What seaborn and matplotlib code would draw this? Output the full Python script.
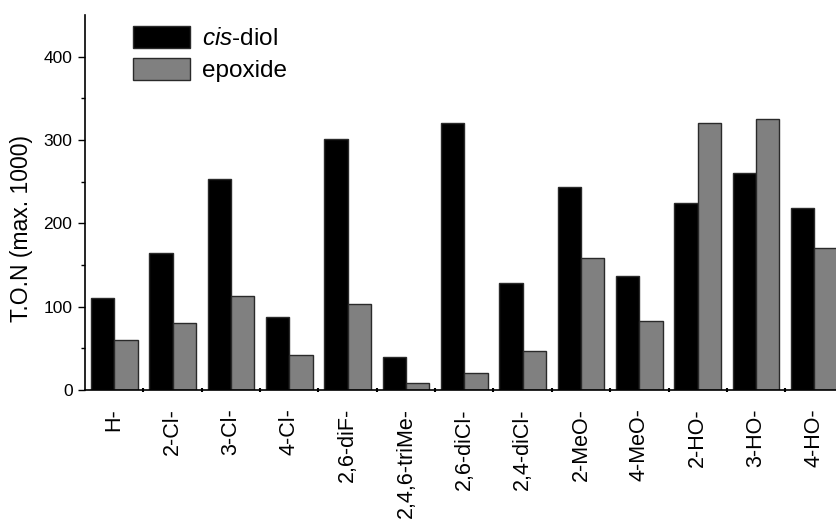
import matplotlib
matplotlib.use("Agg")
import matplotlib.pyplot as plt
import numpy as np
import pandas as pd
import seaborn as sns

# Substituents and turnover numbers for each product
substituents = ["H-", "2-Cl-", "3-Cl-", "4-Cl-", "2,6-diF-", "2,4,6-triMe-",
                "2,6-diCl-", "2,4-diCl-", "2-MeO-", "4-MeO-", "2-HO-", "3-HO-", "4-HO-"]
cis_diol = [110, 165, 253, 88, 301, 40, 320, 128, 244, 137, 225, 260, 219]
epoxide = [60, 80, 113, 42, 103, 8, 21, 47, 158, 83, 320, 325, 170]
series_labels = [r"$\it{cis}$-diol", "epoxide"]
y_ticks = [0, 100, 200, 300, 400]

sns.set_style("white")
plt.rcParams["font.family"] = ["Liberation Sans", "DejaVu Sans"]
plt.rcParams["mathtext.fontset"] = "custom"
plt.rcParams["mathtext.it"] = "Liberation Sans:italic"
plt.rcParams["mathtext.rm"] = "Liberation Sans"
plt.rcParams["text.color"] = "black"
plt.rcParams["axes.labelcolor"] = "black"
plt.rcParams["xtick.color"] = "black"
plt.rcParams["ytick.color"] = "black"

df = pd.DataFrame({
    "substituent": substituents * 2,
    "TON": cis_diol + epoxide,
    "product": [series_labels[0]] * len(substituents) + [series_labels[1]] * len(substituents),
})

fig = plt.figure(figsize=(8.36, 5.19), dpi=100)
ax = fig.add_axes([85 / 836, 129 / 519, 751 / 836, 375 / 519])

sns.barplot(data=df, x="substituent", y="TON", hue="product",
            order=substituents, hue_order=series_labels,
            palette=["black", "#808080"], width=0.8, gap=0,
            edgecolor="#2a2a2a", linewidth=1.0, ax=ax, legend=True)

ax.set_xlim(-0.5, 12.37)
ax.set_ylim(0, 450)

for side in ("top", "right"):
    ax.spines[side].set_visible(False)
for side in ("left", "bottom"):
    ax.spines[side].set_color("black")
    ax.spines[side].set_linewidth(1.2)

ax.set_yticks(y_ticks)
ax.set_yticks(np.arange(50, 450, 100), minor=True)
ax.tick_params(axis="y", which="major", direction="out", length=5, width=1,
               color="black", labelcolor="black", labelsize=12.5, pad=4, left=True)
ax.tick_params(axis="y", which="minor", direction="out", length=3, width=1,
               color="black", left=True)

ax.set_xticks(range(len(substituents)))
ax.set_xticks(np.arange(0.5, len(substituents) - 1, 1.0), minor=True)
ax.set_xticklabels(substituents, rotation=90, fontsize=15.5)
ax.tick_params(axis="x", which="major", length=0, pad=13, bottom=True,
               labelcolor="black")
ax.tick_params(axis="x", which="minor", direction="inout", length=3, width=1.5,
               color="black", bottom=True)

ax.set_xlabel("")
ax.set_ylabel("T.O.N (max. 1000)", fontsize=16.5, color="black")
ax.yaxis.set_label_coords(-0.069, 0.432)

handles, labels = ax.get_legend_handles_labels()
leg = ax.legend(handles, labels, loc="upper left",
                bbox_to_anchor=(133 / 836, 1 - 26 / 519), bbox_transform=fig.transFigure,
                frameon=False, fontsize=17.5, handlelength=2.35, handleheight=1.0,
                handletextpad=0.5, labelspacing=0.32, borderpad=0, borderaxespad=0)
for t in leg.get_texts():
    t.set_color("black")

fig.savefig("out.png", dpi=100)
